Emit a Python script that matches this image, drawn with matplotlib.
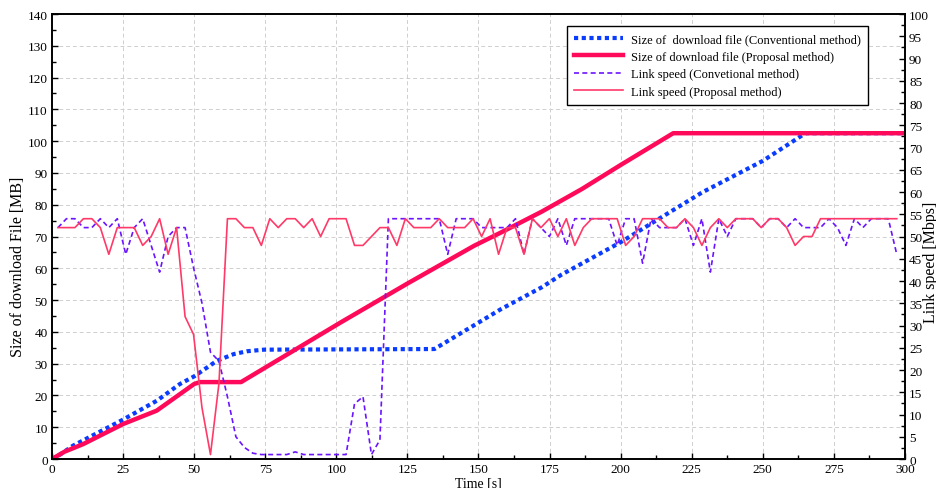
import numpy as np
import matplotlib.pyplot as plt
from matplotlib.ticker import MultipleLocator

plt.rcParams['font.family'] = ['Liberation Serif', 'DejaVu Serif']

# Downloaded file size [MB]
conv_size_t = [0, 3, 7.4, 25, 36.8, 45, 50, 58, 63.9, 68.6, 74.5, 134.5, 158, 172.2, 179.2,
               200, 228.7, 250, 265, 300]
conv_size = [0, 1.5, 4.2, 12.4, 18.3, 23.6, 26.0, 30.9, 33.0, 33.9, 34.4, 34.6, 47.2, 54.0, 58.0,
             68.2, 83.9, 93.8, 102.5, 102.5]

prop_size_t = [0, 4.4, 11, 25, 36.8, 50, 52, 66.5, 101.6, 125, 148.5, 158, 172.2, 186.3,
               200, 218.5, 300]
prop_size = [0, 2.3, 4.7, 11.0, 15.2, 23.6, 24.2, 24.2, 43.0, 55.2, 67.1, 71.3, 77.8, 84.9,
             92.5, 102.5, 102.5]

# Link speed [Mbps], one sample roughly every 3 s
sample_start = 2.1
sample_step = 2.98
conv_speed = [52, 54, 54, 52, 52, 54, 52, 54, 46, 52,
              54, 48, 42, 50, 52, 52, 43, 35, 24, 22,
              14, 5, 2.6, 1.3, 1, 1, 1, 1, 1.6, 1,
              1, 1, 1, 1, 1, 12.4, 14, 1, 4.3, 54,
              54, 54, 54, 54, 54, 54, 46, 54, 54, 54,
              52, 52, 52, 52, 54, 46, 54, 52, 50, 54,
              48, 54, 54, 54, 54, 54, 48, 54, 54, 44,
              54, 52, 52, 52, 54, 48, 54, 42, 54, 50,
              54, 54, 54, 52, 54, 54, 52, 54, 52, 52,
              52, 54, 52, 48, 54, 52, 54, 54, 54, 46]
prop_speed = [52, 52, 52, 54, 54, 52, 46, 52, 52, 52,
              48, 50, 54, 46, 52, 32, 28, 11.5, 1, 17,
              54, 54, 52, 52, 48, 54, 52, 54, 54, 52,
              54, 50, 54, 54, 54, 48, 48, 50, 52, 52,
              48, 54, 52, 52, 52, 54, 52, 52, 52, 54,
              50, 54, 46, 52, 52, 46, 54, 52, 54, 50,
              54, 48, 52, 54, 54, 54, 54, 48, 50, 54,
              54, 54, 52, 52, 54, 52, 48, 52, 54, 52,
              54, 54, 54, 52, 54, 54, 52, 48, 50, 50,
              54, 54, 54, 54, 54, 54, 54, 54, 54, 54]
speed_t = sample_start + sample_step * np.arange(len(prop_speed))

fig = plt.figure(figsize=(9.37, 4.89), dpi=100)
ax1 = fig.add_axes([0.0555, 0.0593, 0.9103, 0.91])
ax2 = ax1.twinx()

l1, = ax1.plot(conv_size_t, conv_size, color="#0a3cff", linestyle=(0, (1, 0.85)), linewidth=3.0,
               label="Size of  download file (Conventional method)")
l2, = ax1.plot(prop_size_t, prop_size, color="#ff0a5a", linewidth=3.2,
               label="Size of download file (Proposal method)")
l3, = ax2.plot(speed_t, conv_speed, color="#6a14ff", linestyle=(0, (3, 2)), linewidth=1.2,
               label="Link speed (Convetional method)")
l4, = ax2.plot(speed_t, prop_speed, color="#ff3a68", linewidth=1.2,
               label="Link speed (Proposal method)")

ax1.set_xlim(0, 300)
ax1.set_ylim(0, 140)
ax2.set_ylim(0, 100)
ax1.xaxis.set_major_locator(MultipleLocator(25))
ax1.xaxis.set_minor_locator(MultipleLocator(12.5))
ax1.yaxis.set_major_locator(MultipleLocator(10))
ax1.yaxis.set_minor_locator(MultipleLocator(5))
ax2.yaxis.set_major_locator(MultipleLocator(5))
ax2.yaxis.set_minor_locator(MultipleLocator(2.5))

ax1.tick_params(axis="both", which="both", direction="in", labelsize=9.5, pad=3)
ax1.tick_params(which="major", length=4, width=1)
ax1.tick_params(which="minor", length=3, width=1)
ax2.tick_params(axis="y", which="both", direction="in", labelsize=9.5, pad=3)
ax2.tick_params(which="major", length=4, width=1)
ax2.tick_params(which="minor", length=3, width=1)

ax1.grid(True, which="major", color="#cfcfcf", linestyle=(0, (4, 3)), linewidth=0.7)
ax1.set_axisbelow(True)
for sp in ax1.spines.values():
    sp.set_linewidth(1.2)
for sp in ax2.spines.values():
    sp.set_linewidth(1.2)

ax1.set_xlabel("Time [s]", fontsize=10, labelpad=1)
ax1.set_ylabel("Size of download File [MB]", fontsize=11.5)
ax2.set_ylabel("Link speed [Mbps]", fontsize=11.5)
ax1.yaxis.set_label_coords(-0.031, 0.434)
ax2.yaxis.set_label_coords(1.021, 0.445)

leg = ax2.legend(handles=[l1, l2, l3, l4], loc="upper right", bbox_to_anchor=(0.9566, 0.973),
                 borderaxespad=0, fontsize=9, frameon=True, fancybox=False, framealpha=1,
                 edgecolor="black", handlelength=3.9, handletextpad=0.65,
                 borderpad=0.55, labelspacing=0.45)
leg.get_frame().set_linewidth(1.0)

fig.savefig("out.png", dpi=100)
